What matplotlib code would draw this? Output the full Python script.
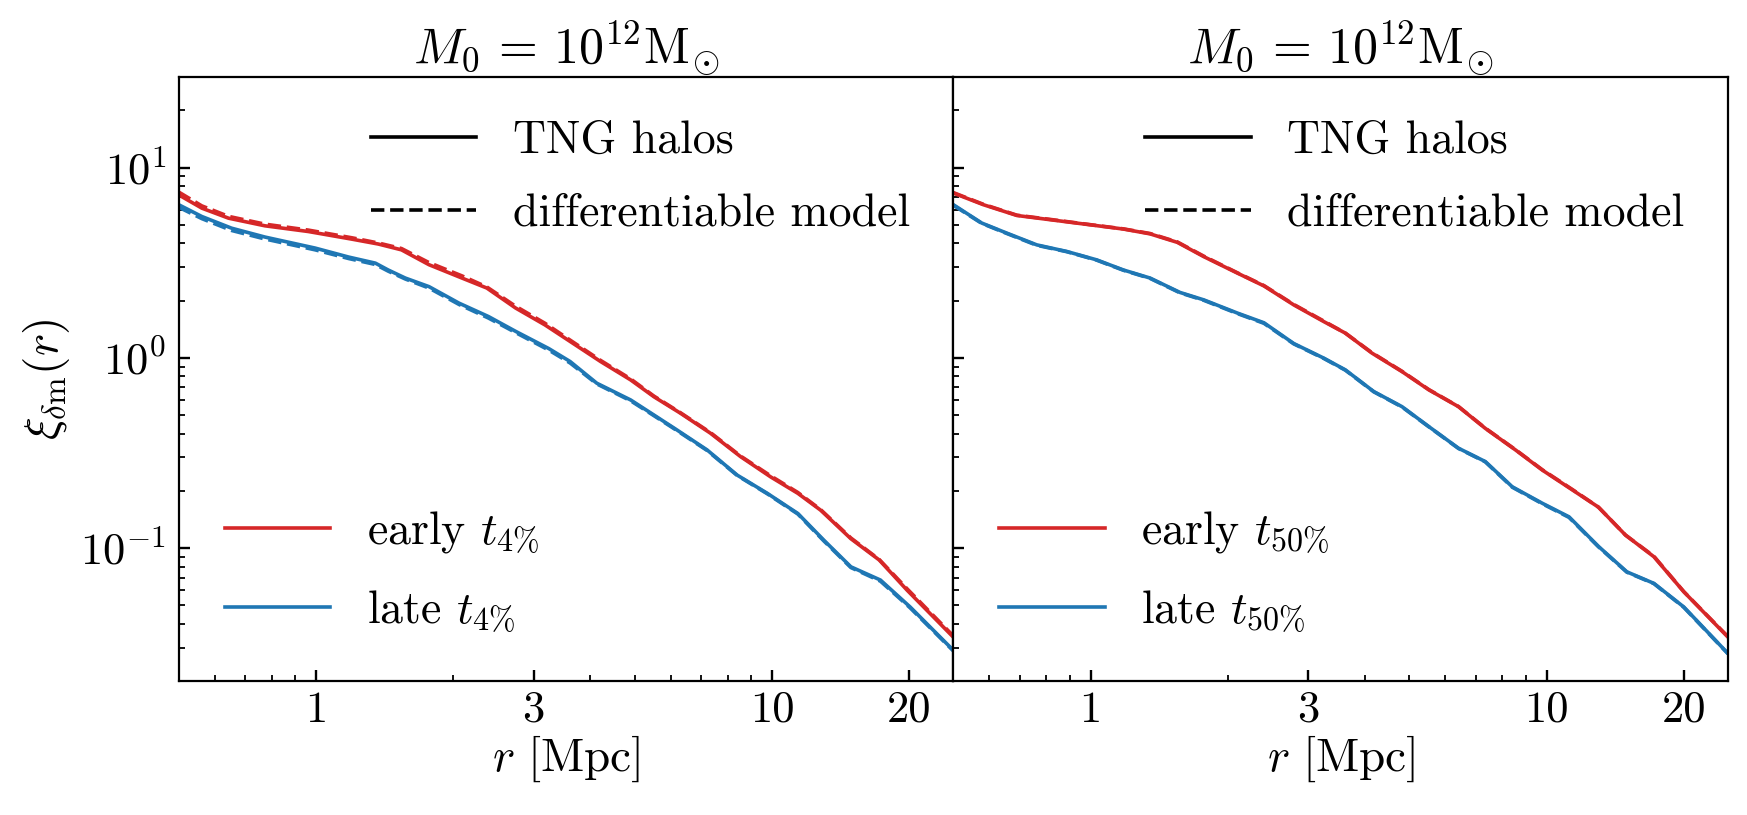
import numpy as np
import matplotlib
matplotlib.use('Agg')
import matplotlib.pyplot as plt
from matplotlib.lines import Line2D
from matplotlib.ticker import FixedLocator, FixedFormatter, LogLocator, NullFormatter

plt.rcParams.update({
    'font.family': 'serif',
    'font.serif': ['cmr10'],
    'mathtext.fontset': 'cm',
    'axes.formatter.use_mathtext': True,
    'font.size': 32,
    'axes.linewidth': 1.6,
})

# ---------------- data ----------------
# Left panel: t_4%
r_L_early = [0.5, 0.562, 0.643, 0.773, 0.962, 1.20, 1.37, 1.54, 1.77, 2.09, 2.37, 2.74, 3.18,
             3.61, 4.21, 4.90, 5.51, 6.30, 7.33, 8.53, 9.93, 11.4, 12.8, 14.9, 17.2, 19.8, 25.0]
xi_L_early_tng = [7.2, 6.13, 5.43, 4.95, 4.62, 4.21, 3.97, 3.70, 3.09, 2.63, 2.33, 1.83, 1.49,
                  1.22, 0.957, 0.766, 0.625, 0.512, 0.402, 0.303, 0.237, 0.194, 0.158, 0.112, 0.0865, 0.060, 0.034]
xi_L_early_model = [7.45, 6.30, 5.55, 5.05, 4.70, 4.28, 4.02, 3.76, 3.17, 2.70, 2.36, 1.87, 1.52,
                    1.24, 0.97, 0.775, 0.630, 0.515, 0.405, 0.305, 0.240, 0.196, 0.159, 0.113, 0.087, 0.061, 0.0345]

r_L_late = [0.5, 0.562, 0.653, 0.773, 0.996, 1.18, 1.35, 1.44, 1.57, 1.77, 2.06, 2.39, 2.74, 3.24,
            3.61, 4.13, 4.90, 5.51, 6.19, 7.21, 8.39, 9.77, 11.4, 13.0, 14.9, 17.3, 20.1, 25.0]
xi_L_late_tng = [6.39, 5.54, 4.81, 4.32, 3.78, 3.39, 3.15, 2.90, 2.63, 2.37, 1.94, 1.65, 1.38, 1.12,
                 0.957, 0.736, 0.601, 0.501, 0.418, 0.328, 0.242, 0.194, 0.152, 0.110, 0.0797, 0.0679, 0.049, 0.029]
xi_L_late_model = [6.20, 5.40, 4.68, 4.22, 3.70, 3.33, 3.10, 2.86, 2.60, 2.33, 1.91, 1.62, 1.36, 1.10,
                   0.94, 0.73, 0.595, 0.497, 0.415, 0.326, 0.241, 0.193, 0.151, 0.109, 0.079, 0.067, 0.0485, 0.0288]

# Right panel: t_50%
r_R_early = [0.5, 0.582, 0.689, 0.815, 0.998, 1.18, 1.35, 1.55, 1.77, 2.10, 2.40, 2.79, 3.25, 3.62,
             4.14, 4.82, 5.52, 6.41, 7.34, 8.55, 9.79, 11.4, 13.0, 14.9, 17.2, 20.0, 25.0]
xi_R_early_tng = [7.36, 6.39, 5.61, 5.33, 5.01, 4.76, 4.49, 4.05, 3.41, 2.79, 2.39, 1.90, 1.55, 1.35,
                  1.06, 0.847, 0.679, 0.554, 0.426, 0.328, 0.257, 0.202, 0.164, 0.117, 0.090, 0.0589, 0.034]
xi_R_early_model = [7.40, 6.42, 5.63, 5.35, 5.02, 4.77, 4.51, 4.07, 3.43, 2.80, 2.40, 1.91, 1.56, 1.35,
                    1.065, 0.850, 0.681, 0.555, 0.427, 0.329, 0.258, 0.203, 0.164, 0.117, 0.0905, 0.059, 0.0342]

r_R_late = [0.5, 0.577, 0.655, 0.762, 0.886, 1.03, 1.18, 1.35, 1.57, 1.77, 2.10, 2.40, 2.79, 3.25,
            3.62, 4.18, 4.82, 5.52, 6.41, 7.34, 8.41, 9.79, 11.2, 13.0, 15.0, 17.2, 20.0, 25.0]
xi_R_late_tng = [6.39, 5.12, 4.53, 3.93, 3.63, 3.28, 2.90, 2.63, 2.21, 2.02, 1.72, 1.53, 1.19, 0.996,
                 0.865, 0.665, 0.554, 0.435, 0.335, 0.285, 0.210, 0.172, 0.146, 0.102, 0.075, 0.0652, 0.049, 0.0279]
xi_R_late_model = [6.35, 5.10, 4.51, 3.91, 3.62, 3.27, 2.89, 2.62, 2.20, 2.01, 1.71, 1.52, 1.185, 0.992,
                   0.862, 0.663, 0.552, 0.434, 0.334, 0.284, 0.209, 0.171, 0.145, 0.1015, 0.0747, 0.065, 0.0488, 0.0278]

title_text = r'$M_0 \,=\, 10^{12}{\rm M}_{\!\odot}$'
labels_left = [r'early $t_{4\%}$', r'late $t_{4\%}$']
labels_right = [r'early $t_{50\%}$', r'late $t_{50\%}$']
style_labels = ['TNG halos', 'differentiable model']
xtick_vals = [1, 3, 10, 20]
xtick_labels = ['1', '3', '10', '20']

RED = '#d62728'
BLUE = '#1f77b4'
LW = 2.6

fig, axes = plt.subplots(1, 2, figsize=(17.47, 8.15), dpi=100, sharey=True)
fig.subplots_adjust(left=178.7 / 1747, right=1728 / 1747, bottom=1 - 681 / 815,
                    top=1 - 77 / 815, wspace=0)

panels = [
    (axes[0], r_L_early, xi_L_early_tng, xi_L_early_model, r_L_late, xi_L_late_tng, xi_L_late_model, labels_left),
    (axes[1], r_R_early, xi_R_early_tng, xi_R_early_model, r_R_late, xi_R_late_tng, xi_R_late_model, labels_right),
]

for ax, re, et, em, rl, lt, lm, labs in panels:
    l1, = ax.plot(re, et, color=RED, lw=LW, ls='-')
    l2, = ax.plot(rl, lt, color=BLUE, lw=LW, ls='-')
    ax.plot(re, em, color=RED, lw=LW, ls='--')
    ax.plot(rl, lm, color=BLUE, lw=LW, ls='--')
    ax.set_xscale('log')
    ax.set_yscale('log')
    ax.set_xlim(0.5, 25)
    ax.set_ylim(0.02, 30)
    ax.xaxis.set_major_locator(FixedLocator(xtick_vals))
    ax.xaxis.set_major_formatter(FixedFormatter(xtick_labels))
    ax.xaxis.set_minor_locator(LogLocator(base=10, subs=np.arange(2, 10), numticks=20))
    ax.xaxis.set_minor_formatter(NullFormatter())
    ax.yaxis.set_minor_locator(LogLocator(base=10, subs=np.arange(2, 10), numticks=20))
    ax.yaxis.set_minor_formatter(NullFormatter())
    ax.tick_params(which='both', direction='in', top=False, right=False, labelsize=32)
    ax.tick_params(which='major', length=8, width=1.7)
    ax.tick_params(which='minor', length=4.5, width=1.3)
    ax.tick_params(axis='x', which='major', pad=7)
    ax.tick_params(axis='y', which='major', pad=9)
    ax.set_title(title_text, fontsize=36, pad=7)
    ax.set_xlabel(r'$r\ [{\rm Mpc}]$', fontsize=34, labelpad=2)

    h_style = [Line2D([], [], color='k', lw=LW, ls='-'), Line2D([], [], color='k', lw=LW, ls='--')]
    leg1 = ax.legend(h_style, style_labels, loc='upper right', frameon=False, fontsize=33,
                     handlelength=2.3, borderaxespad=0.55, labelspacing=0.67)
    ax.add_artist(leg1)
    ax.legend([l1, l2], labs, loc='lower left', frameon=False, fontsize=33,
              handlelength=2.3, borderaxespad=0.6, labelspacing=0.72)

axes[0].set_ylabel(r'$\xi_{\delta{\rm m}}(r)$', fontsize=34, labelpad=6)

fig.savefig('out.png', dpi=100)
